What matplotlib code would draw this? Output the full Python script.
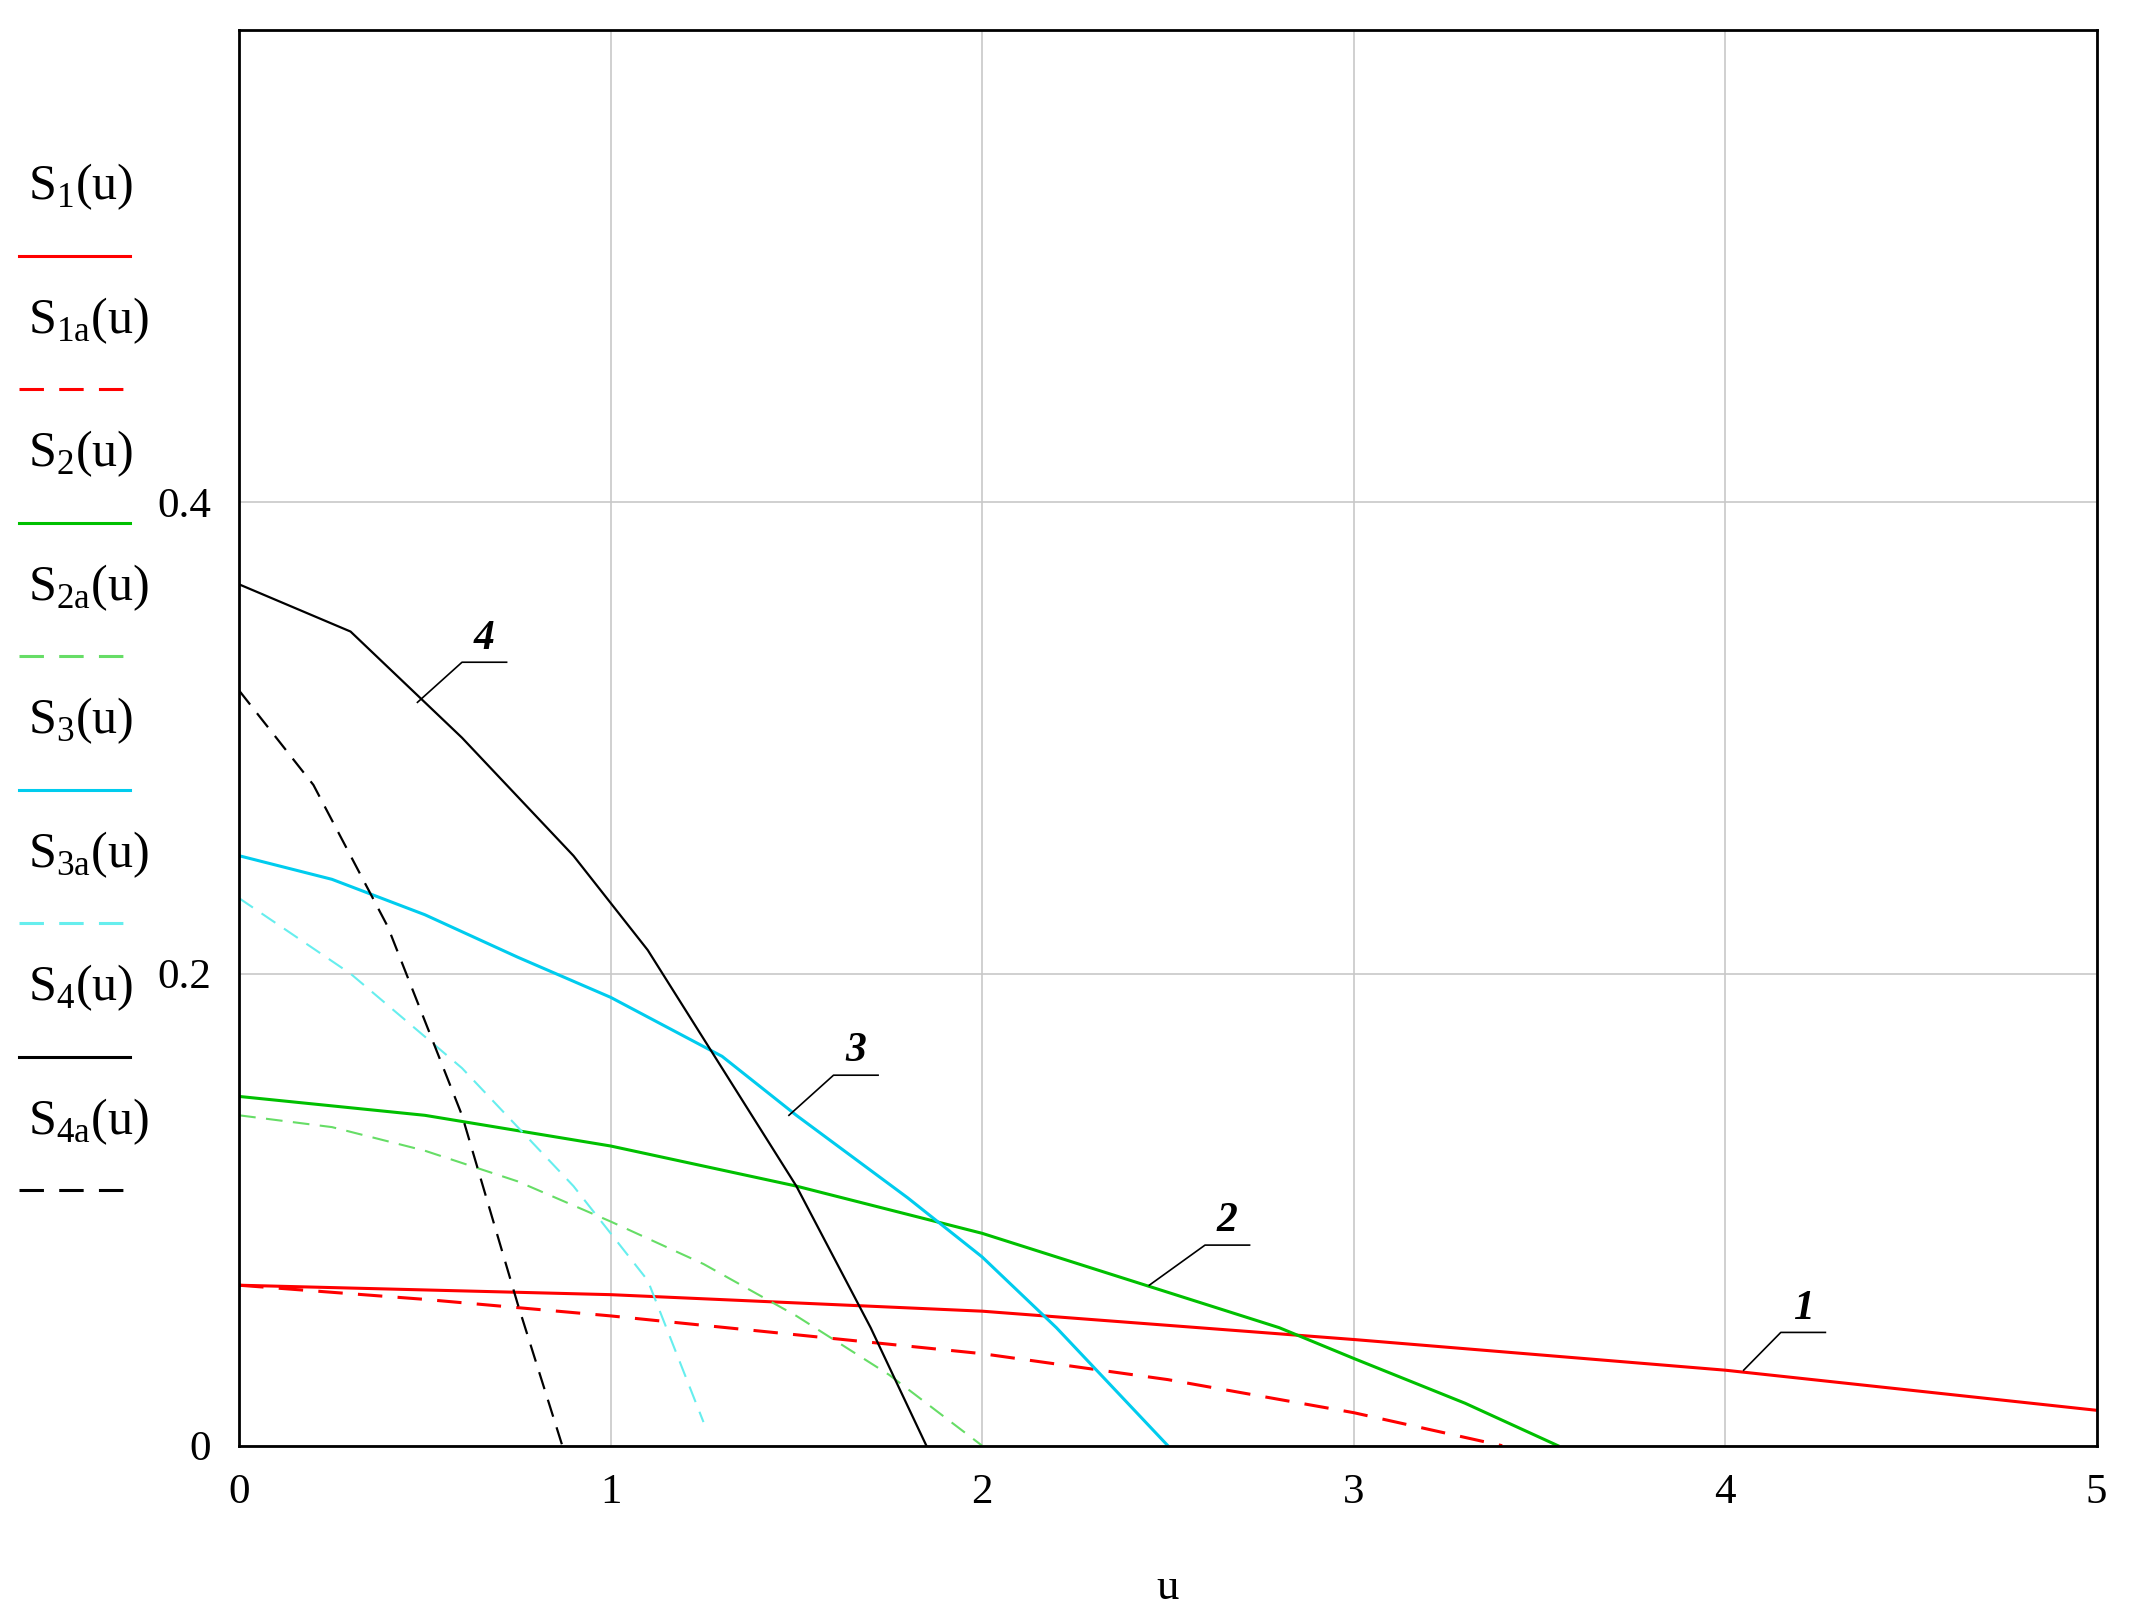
import matplotlib
matplotlib.use("Agg")
import matplotlib.pyplot as plt
from matplotlib.lines import Line2D

plt.rcParams['font.family'] = ['Liberation Serif', 'DejaVu Serif']
plt.rcParams['mathtext.fontset'] = 'custom'
plt.rcParams['mathtext.rm'] = 'Liberation Serif'

u1 = [0, 1, 2, 3, 4, 5]; s1 = [0.068, 0.064, 0.057, 0.045, 0.032, 0.015]
u1a = [0, 0.5, 1, 1.5, 2, 2.5, 3, 3.4]; s1a = [0.068, 0.062, 0.055, 0.047, 0.039, 0.028, 0.014, 0.0]
u2 = [0, 0.5, 1, 1.5, 2, 2.5, 2.8, 3, 3.3, 3.55]; s2 = [0.148, 0.14, 0.127, 0.11, 0.09, 0.065, 0.05, 0.037, 0.018, 0.0]
u2a = [0, 0.25, 0.5, 0.75, 1, 1.25, 1.5, 1.75, 2]; s2a = [0.14, 0.135, 0.125, 0.112, 0.095, 0.077, 0.055, 0.03, 0.0]
u3 = [0, 0.25, 0.5, 0.75, 1, 1.3, 1.5, 1.8, 2, 2.2, 2.5]; s3 = [0.25, 0.24, 0.225, 0.207, 0.19, 0.165, 0.14, 0.105, 0.08, 0.05, 0.0]
u3a = [0, 0.3, 0.6, 0.9, 1.1, 1.25]; s3a = [0.232, 0.2, 0.16, 0.11, 0.07, 0.01]
u4 = [0, 0.3, 0.6, 0.9, 1.1, 1.3, 1.5, 1.7, 1.85]; s4 = [0.365, 0.345, 0.3, 0.25, 0.21, 0.16, 0.11, 0.05, 0.0]
u4a = [0, 0.2, 0.4, 0.6, 0.75, 0.87]; s4a = [0.32, 0.28, 0.22, 0.14, 0.06, 0.0]

fig = plt.figure(figsize=(21.35, 16.2), dpi=100)
ax = fig.add_axes([0.112, 0.1076, 0.870, 0.874])
dash = (0, (8, 5))
ax.plot(u1, s1, color='#ff0000', lw=2.2)
ax.plot(u1a, s1a, color='#ff0000', lw=2.2, ls=dash)
ax.plot(u2, s2, color='#00c000', lw=2.2)
ax.plot(u2a, s2a, color='#66dd66', lw=1.5, ls=dash)
ax.plot(u3, s3, color='#00ccee', lw=2.2)
ax.plot(u3a, s3a, color='#66eeee', lw=1.5, ls=dash)
ax.plot(u4, s4, color='black', lw=1.6)
ax.plot(u4a, s4a, color='black', lw=1.6, ls=dash)

ax.set_xlim(0, 5); ax.set_ylim(0, 0.6)
ax.set_xticks([0, 1, 2, 3, 4, 5]); ax.set_yticks([0, 0.2, 0.4])
ax.set_yticklabels(['0', '0.2', '0.4'])
ax.grid(True, color='#c8c8c8', lw=1.2)
ax.tick_params(length=0, labelsize=31, pad=20)
for s in ax.spines.values():
    s.set_linewidth(2)
ax.set_xlabel('u', fontsize=32, labelpad=40)

for lab, (x0, y0), (x1, y1) in [('1', (4.05, 0.032), (4.15, 0.048)),
                                 ('2', (2.45, 0.068), (2.6, 0.085)),
                                 ('3', (1.48, 0.14), (1.6, 0.157)),
                                 ('4', (0.48, 0.315), (0.6, 0.332))]:
    ax.plot([x0, x1, x1 + 0.12], [y0, y1, y1], color='black', lw=1.2)
    ax.text(x1 + 0.06, y1 + 0.002, lab, fontsize=30, fontweight='bold', style='italic', ha='center', va='bottom')

leg = [('1', '#ff0000', '-'), ('1a', '#ff0000', dash), ('2', '#00c000', '-'), ('2a', '#66dd66', dash),
       ('3', '#00ccee', '-'), ('3a', '#66eeee', dash), ('4', 'black', '-'), ('4a', 'black', dash)]
for i, (sub, c, ls) in enumerate(leg):
    yt = 0.877 - i * 0.0824
    fig.text(0.013, yt, r'S$_{\mathrm{%s}}$(u)' % sub, fontsize=36, va='baseline')
    yl = yt - 0.035
    fig.add_artist(Line2D([0.009, 0.061], [yl, yl], color=c, lw=2.2, ls=ls, transform=fig.transFigure))

fig.savefig('out.png', dpi=100)
